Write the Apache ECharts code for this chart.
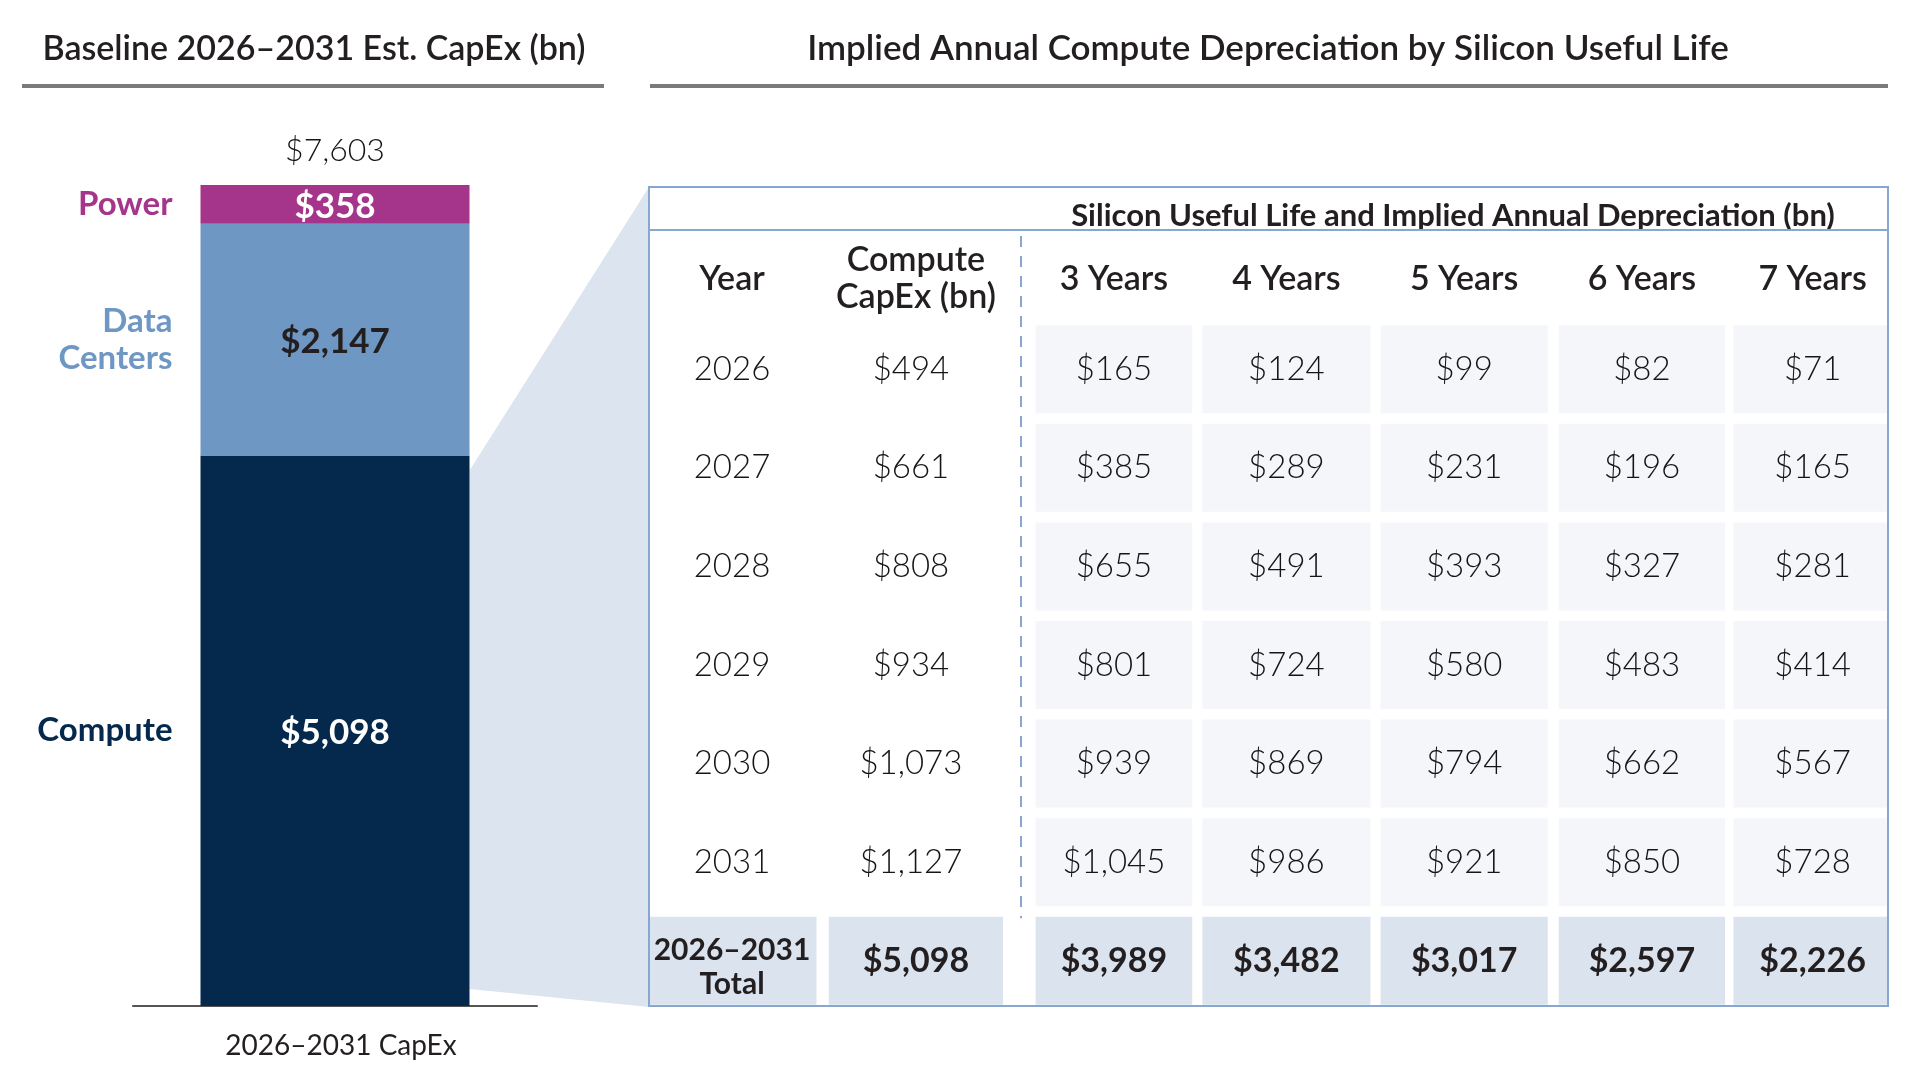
<!DOCTYPE html>
<html><head><meta charset="utf-8">
<script src="https://cdn.jsdelivr.net/npm/echarts@6/dist/echarts.min.js"></script>
<style>html,body{margin:0;padding:0;background:#fff}#chart{width:1917px;height:1091px}</style>
</head><body><div id="chart"></div>
<script>
// ---------------- data ----------------
const capexCategory = '2026–2031 CapEx';
const segmentNames = ['Compute', 'Data Centers', 'Power'];
const segmentValues = [5098, 2147, 358];

const years = ['2026', '2027', '2028', '2029', '2030', '2031'];
const computeCapex = [494, 661, 808, 934, 1073, 1127];
const usefulLives = ['3 Years', '4 Years', '5 Years', '6 Years', '7 Years'];
const dep3 = [165, 385, 655, 801, 939, 1045];
const dep4 = [124, 289, 491, 724, 869, 986];
const dep5 = [99, 231, 393, 580, 794, 921];
const dep6 = [82, 196, 327, 483, 662, 850];
const dep7 = [71, 165, 281, 414, 567, 728];
const totalRowLabel = '2026–2031\nTotal';
const computeTotal = 5098;
const depTotals = [3989, 3482, 3017, 2597, 2226];

const leftTitle = 'Baseline 2026–2031 Est. CapEx (bn)';
const rightTitle = 'Implied Annual Compute Depreciation by Silicon Useful Life';
const tableSuperHeader = 'Silicon Useful Life and Implied Annual Depreciation (bn)';
const headerTexts = ['Year', 'Compute\nCapEx (bn)'].concat(usefulLives);

// ---------------- styling / layout ----------------
const FONT = 'Lato, "Noto Sans", sans-serif';
const TXT = '#231f20';
const NUM = '#151515';
const segColors = ['#04294d', '#6e97c4', '#a5358b'];
const segValueColors = ['#ffffff', '#231f20', '#ffffff'];
const BAR_W = 269;
const BAR_GRID = { left: 133, top: 185, width: 404, height: 821 };
const TABLE_GRID = { left: 650, top: 320, width: 1237, height: 690 };
const COL_UNIT = 176;                 // px per column unit
const FIRST_COL_CENTER = 732;
const colX = [0, 1.045, 2.17, 3.15, 4.16, 5.17, 6.14];
const colW = [0.96, 0.99, 0.89, 0.955, 0.95, 0.945, 0.9];
const ROW_FILL = 0.893;
const HEADER_ROW = -0.916;

const fmt = v => '$' + v.toLocaleString('en-US');
const total = segmentValues.reduce((a, b) => a + b, 0);
const depCols = [dep3, dep4, dep5, dep6, dep7];

// table records [x, row, text, kind, col]
const tableData = [];
headerTexts.forEach((t, c) => tableData.push([colX[c], HEADER_ROW, t, 'header', c]));
years.forEach((y, r) => {
  tableData.push([colX[0], r, y, 'plain', 0]);
  tableData.push([colX[1], r, fmt(computeCapex[r]), 'plain', 1]);
  depCols.forEach((arr, k) => tableData.push([colX[k + 2], r, fmt(arr[r]), 'cell', k + 2]));
});
tableData.push([colX[0], years.length, totalRowLabel, 'total', 0]);
tableData.push([colX[1], years.length, fmt(computeTotal), 'total', 1]);
depTotals.forEach((v, k) => tableData.push([colX[k + 2], years.length, fmt(v), 'total', k + 2]));

function renderCell(params, api) {
  const d = tableData[params.dataIndex];
  const text = d[2], kind = d[3], c = d[4];
  const p = api.coord([d[0], d[1]]);
  const unit = api.size([1, 1]);
  const cs = params.coordSys;
  const w = unit[0] * colW[c], h = unit[1] * ROW_FILL;
  const x0 = Math.max(p[0] - w / 2, cs.x), x1 = Math.min(p[0] + w / 2, cs.x + cs.width);
  const children = [];
  if (kind === 'cell' || kind === 'total') {
    children.push({ type: 'rect', shape: { x: x0, y: p[1] - h / 2, width: x1 - x0, height: h },
      style: { fill: kind === 'total' ? '#dbe4ee' : '#f4f6fa' } });
  }
  let fontSize = 33, fontWeight = 300, lineHeight = 38, dy = 0, color = NUM;
  let tx = p[0];
  if (kind === 'header') { fontSize = 34; fontWeight = 600; lineHeight = 37; color = TXT; }
  if (kind === 'total') {
    fontSize = c === 0 ? 30 : 34; fontWeight = 700; lineHeight = 34; color = TXT;
    if (c === 0) dy = 7;
  }
  if (kind === 'plain' && c === 1) tx = p[0] - 5;
  children.push({ type: 'text', x: tx, y: p[1] + dy,
    style: { text: text, align: 'center', verticalAlign: 'middle', fontFamily: FONT,
      fontSize: fontSize, fontWeight: fontWeight, lineHeight: lineHeight, fill: color } });
  return { type: 'group', children: children };
}

const mainBars = segmentNames.map((name, i) => ({
  name: name, type: 'bar', stack: 'capex', barWidth: BAR_W, barGap: '-100%',
  xAxisIndex: 0, yAxisIndex: 0,
  data: [segmentValues[i]],
  itemStyle: { color: segColors[i] },
  label: { show: true, position: 'inside', offset: [0, 2], formatter: p => fmt(p.value),
    color: segValueColors[i], fontFamily: FONT, fontWeight: 700, fontSize: 35 },
  markPoint: i === segmentNames.length - 1 ? {
    symbol: 'circle', symbolSize: 0, silent: true,
    data: [{ coord: [capexCategory, total], value: total }],
    label: { show: true, position: 'top', distance: 18, formatter: () => fmt(total),
      color: NUM, fontFamily: FONT, fontWeight: 300, fontSize: 32 }
  } : undefined
}));
const nameBars = segmentNames.map((name, i) => ({
  name: name + ' label', type: 'bar', stack: 'names', barWidth: BAR_W, barGap: '-100%',
  xAxisIndex: 0, yAxisIndex: 0, silent: true,
  data: [segmentValues[i]],
  itemStyle: { color: 'rgba(0,0,0,0)' },
  label: { show: true, position: 'left', distance: 28, formatter: () => name.replace(' ', '\n'),
    color: segColors[i], fontFamily: FONT, fontWeight: 700, fontSize: 33, lineHeight: 37, align: 'right' }
}));

const option = {
  animation: false,
  backgroundColor: '#ffffff',
  grid: [
    Object.assign({}, BAR_GRID),
    Object.assign({}, TABLE_GRID)
  ],
  xAxis: [
    { type: 'category', gridIndex: 0, data: [capexCategory],
      axisLine: { lineStyle: { color: '#555', width: 2 } }, axisTick: { show: false },
      axisLabel: { color: TXT, fontFamily: FONT, fontSize: 28, margin: 26, padding: [0, 0, 0, 12] } },
    { type: 'value', gridIndex: 1, show: false,
      min: -(FIRST_COL_CENTER - TABLE_GRID.left) / COL_UNIT,
      max: -(FIRST_COL_CENTER - TABLE_GRID.left) / COL_UNIT + TABLE_GRID.width / COL_UNIT }
  ],
  yAxis: [
    { type: 'value', gridIndex: 0, show: false, min: 0, max: total, splitLine: { show: false } },
    { type: 'value', gridIndex: 1, show: false, inverse: true, min: -0.5, max: years.length + 0.5 }
  ],
  series: mainBars.concat(nameBars).concat([{
    type: 'custom', xAxisIndex: 1, yAxisIndex: 1, silent: true, clip: false,
    data: tableData.map(d => [d[0], d[1]]),
    renderItem: renderCell
  }])
};

const chart = echarts.init(document.getElementById('chart'));
chart.setOption(option);

// decorations that connect to the data positions
const topPt = chart.convertToPixel({ xAxisIndex: 0, yAxisIndex: 0 }, [capexCategory, segmentValues[0]]);
const botPt = chart.convertToPixel({ xAxisIndex: 0, yAxisIndex: 0 }, [capexCategory, 0]);
const barRight = topPt[0] + BAR_W / 2;
const tL = TABLE_GRID.left - 1, tR = TABLE_GRID.left + TABLE_GRID.width + 1, tT = 187, tB = 1006;
const dashTop = chart.convertToPixel({ xAxisIndex: 1, yAxisIndex: 1 }, [colX[1] + 0.597, -1.352]);
const dashBot = chart.convertToPixel({ xAxisIndex: 1, yAxisIndex: 1 }, [colX[1] + 0.597, years.length - 0.43]);

chart.setOption({
  graphic: [
    { type: 'text', x: 314, y: 49, z: 10, style: { text: leftTitle, align: 'center', verticalAlign: 'middle',
      fontFamily: FONT, fontSize: 34, fontWeight: 600, fill: TXT } },
    { type: 'rect', shape: { x: 22, y: 84, width: 582, height: 4 }, style: { fill: '#7a7a7a' } },
    { type: 'text', x: 1268, y: 49, z: 10, style: { text: rightTitle, align: 'center', verticalAlign: 'middle',
      fontFamily: FONT, fontSize: 35, fontWeight: 600, fill: TXT } },
    { type: 'rect', shape: { x: 650, y: 84, width: 1238, height: 4 }, style: { fill: '#7a7a7a' } },
    { type: 'polygon', z: -1, shape: { points: [
      [barRight, topPt[1] + 15], [tL, tT], [tL, tB + 1], [barRight, botPt[1] - 17]] },
      style: { fill: '#dce5ef' } },
    { type: 'rect', z: 0, shape: { x: tL, y: tT, width: tR - tL, height: tB - tT }, style: { fill: '#ffffff' } },
    { type: 'rect', z: 100, shape: { x: tL, y: tT, width: tR - tL, height: tB - tT },
      style: { fill: null, stroke: '#86a8d0', lineWidth: 2 } },
    { type: 'line', z: 100, shape: { x1: tL, y1: 230, x2: tR, y2: 230 }, style: { stroke: '#86a8d0', lineWidth: 2 } },
    { type: 'text', x: 1453, y: 216, z: 10, style: { text: tableSuperHeader, align: 'center', verticalAlign: 'middle',
      fontFamily: FONT, fontSize: 31, fontWeight: 700, fill: TXT } },
    { type: 'line', z: 100, shape: { x1: dashTop[0], y1: dashTop[1], x2: dashBot[0], y2: dashBot[1] },
      style: { stroke: '#86a8d0', lineWidth: 2, lineDash: [11, 9] } }
  ]
});
</script></body></html>
